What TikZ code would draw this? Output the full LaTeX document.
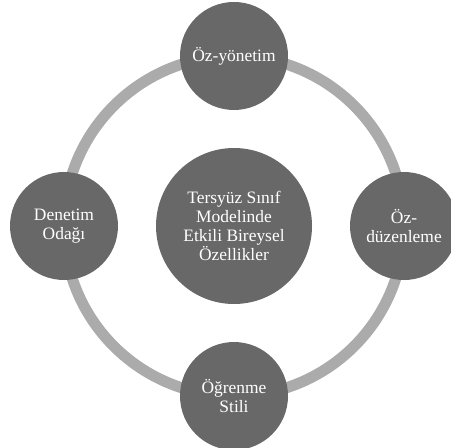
\documentclass[tikz,border=0pt]{standalone}
\usepackage{fontspec}
\setmainfont{Liberation Serif}
\usetikzlibrary{positioning}
\definecolor{koyu}{RGB}{104,104,104}
\definecolor{acik}{RGB}{171,171,171}
\tikzset{
  hub/.style={circle, fill=koyu, text=white, minimum size=156bp, inner sep=0pt,
              align=center, font=\fontsize{17.5}{19}\selectfont},
  sat/.style={circle, fill=koyu, text=white, minimum size=108bp, inner sep=0pt,
              align=center, font=\fontsize{17.5}{19}\selectfont},
  ring/.style={draw=acik, line width=11bp}
}
\begin{document}
\begin{tikzpicture}[x=1bp, y=-1bp, node distance=170bp, on grid]
    \useasboundingbox (0,0) rectangle (451,448);

    % --- halka (düğümlerin arkasında) ---
    \coordinate (mid) at (234,226);
    \draw[ring] (mid) circle[radius=170];

    % --- merkez ---
    \node[hub] (hub) at (mid)
      {Tersyüz Sınıf\\Modelinde\\Etkili Bireysel\\Özellikler};

    % --- dört özellik ---
    \node[sat, above=of hub] (yon) {Öz-yönetim};
    \node[sat, right=of hub] (duz) {Öz-\\düzenleme};
    \node[sat, below=of hub] (ogr) {Öğrenme\\Stili};
    \node[sat, left=of hub] (den) {Denetim\\Odağı};
\end{tikzpicture}
\end{document}
